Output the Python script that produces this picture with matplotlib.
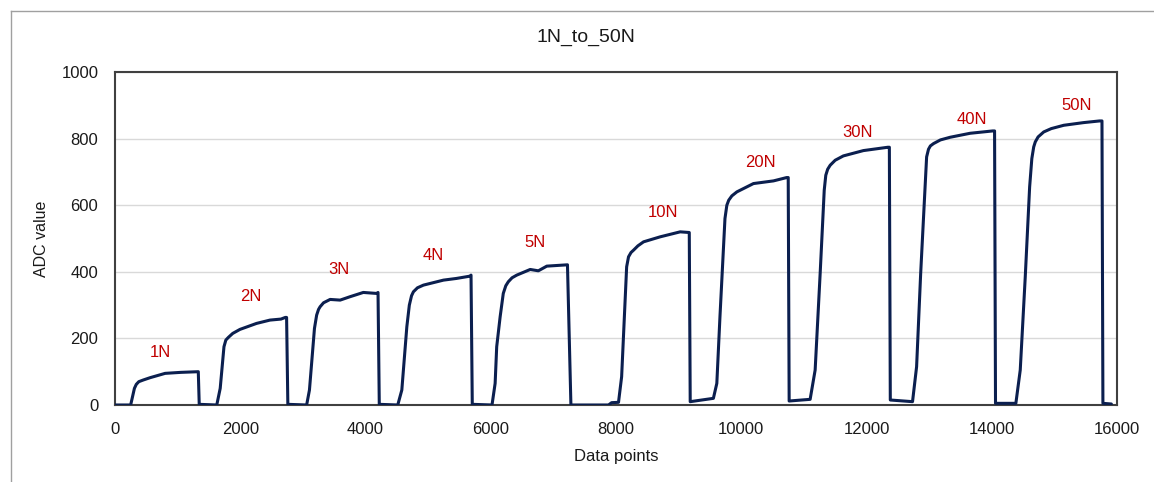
import matplotlib
matplotlib.use("Agg")
import matplotlib.pyplot as plt
from matplotlib.lines import Line2D

plt.rcParams['font.family'] = ['Liberation Sans', 'DejaVu Sans']

# Traced sensor trace (data points vs ADC value)
data_points = [
    0, 250, 310, 340, 380, 450, 560, 800, 1050, 1305, 1330, 1345, 1625,
    1680, 1740, 1770, 1810, 1880, 1995, 2260, 2475, 2650, 2720, 2740, 2760, 3060,
    3105, 3185, 3220, 3250, 3275, 3330, 3435, 3595, 3750, 3965, 4180, 4200, 4220, 4515,
    4580, 4660, 4700, 4735, 4765, 4830, 4925, 5245, 5450, 5670, 5685, 5705, 6020,
    6070, 6095, 6150, 6200, 6240, 6280, 6340, 6415, 6630, 6760, 6895, 7200, 7225, 7280, 7880,
    7930, 8040, 8090, 8145, 8170, 8200, 8240, 8280, 8350, 8440, 8705, 9025, 9150, 9170, 9185, 9555,
    9610, 9660, 9715, 9740, 9770, 9800, 9850, 9930, 10195, 10515, 10725, 10750, 10765, 11100,
    11180, 11260, 11325, 11350, 11380, 11420, 11500, 11630, 11950, 12340, 12365, 12380, 12735,
    12800, 12865, 12960, 12990, 13020, 13070, 13180, 13335, 13655, 14015, 14045, 14060, 14385,
    14455, 14535, 14605, 14640, 14670, 14695, 14740, 14830, 14950, 15150, 15465, 15720, 15760, 15775, 15910,
]
adc_values = [
    0, 0, 50, 62, 70, 75, 82, 95, 98, 100, 100, 2, 0,
    50, 175, 195, 203, 215, 227, 245, 255, 258, 263, 263, 2, 0,
    45, 230, 270, 287, 295, 307, 317, 315, 325, 338, 335, 338, 2, 0,
    45, 235, 300, 328, 340, 352, 360, 375, 380, 387, 390, 2, 0,
    65, 175, 265, 335, 358, 370, 382, 390, 407, 403, 417, 421, 421, 0, 0,
    7, 8, 85, 315, 415, 445, 458, 465, 478, 490, 505, 520, 518, 518, 10, 20,
    65, 265, 465, 560, 600, 615, 628, 640, 665, 673, 683, 683, 12, 17,
    105, 395, 645, 690, 708, 720, 735, 748, 764, 774, 774, 15, 10,
    115, 395, 745, 768, 778, 785, 796, 804, 816, 823, 823, 5, 5,
    105, 385, 655, 740, 775, 790, 805, 820, 830, 840, 848, 853, 853, 5, 3,
]

# Force annotations
force_labels = ["1N", "2N", "3N", "4N", "5N", "10N", "20N", "30N", "40N", "50N"]
force_label_x = [720, 2170, 3580, 5085, 6710, 8745, 10300, 11855, 13680, 15350]
force_label_y = [157, 327, 407, 450, 487, 578, 728, 818, 858, 898]

x_ticks = [0, 2000, 4000, 6000, 8000, 10000, 12000, 14000, 16000]
y_ticks = [0, 200, 400, 600, 800, 1000]

W, H = 1154, 482
fig = plt.figure(figsize=(W / 100, H / 100), dpi=100)
ax = fig.add_axes([115 / W, 1 - 405 / H, (1117 - 115) / W, (405 - 72) / H])

ax.plot(data_points, adc_values, color='#0b1f4f', lw=2.2,
        solid_joinstyle='round', solid_capstyle='round', zorder=3)

for t, lx, ly in zip(force_labels, force_label_x, force_label_y):
    ax.text(lx, ly, t, color='#C00000', fontsize=12, ha='center', va='center', zorder=4)

ax.set_xlim(0, 16000)
ax.set_ylim(0, 1000)
ax.set_xticks(x_ticks)
ax.set_yticks(y_ticks)
ax.set_xticklabels([str(v) for v in x_ticks])
ax.set_yticklabels([str(v) for v in y_ticks])
ax.tick_params(axis='both', length=0, labelsize=12, colors='#1a1a1a', pad=12)
ax.yaxis.grid(True, color='#d9d9d9', lw=1.0, zorder=0)
ax.set_axisbelow(True)
for s in ax.spines.values():
    s.set_color('#404040')
    s.set_linewidth(1.5)

ax.set_xlabel('Data points', fontsize=12, color='#1a1a1a', va='center')
ax.xaxis.set_label_coords(0.5, (405 - 457) / (405 - 72))
ax.set_ylabel('ADC value', fontsize=11.5, color='#1a1a1a', va='center')
ax.yaxis.set_label_coords((42 - 115) / (1117 - 115), 0.5)

fig.text(586 / W, 1 - 37 / H, '1N_to_50N', fontsize=14, ha='center', va='center', color='#1a1a1a')

# Outer chart frame (partially visible)
fig.add_artist(Line2D([10.5 / W, 10.5 / W], [0, 1 - 10.5 / H], transform=fig.transFigure,
                      color='#a0a0a0', lw=1.0))
fig.add_artist(Line2D([10.5 / W, 1], [1 - 10.5 / H, 1 - 10.5 / H], transform=fig.transFigure,
                      color='#a0a0a0', lw=1.0))

fig.savefig('out.png', dpi=100, facecolor='white')
